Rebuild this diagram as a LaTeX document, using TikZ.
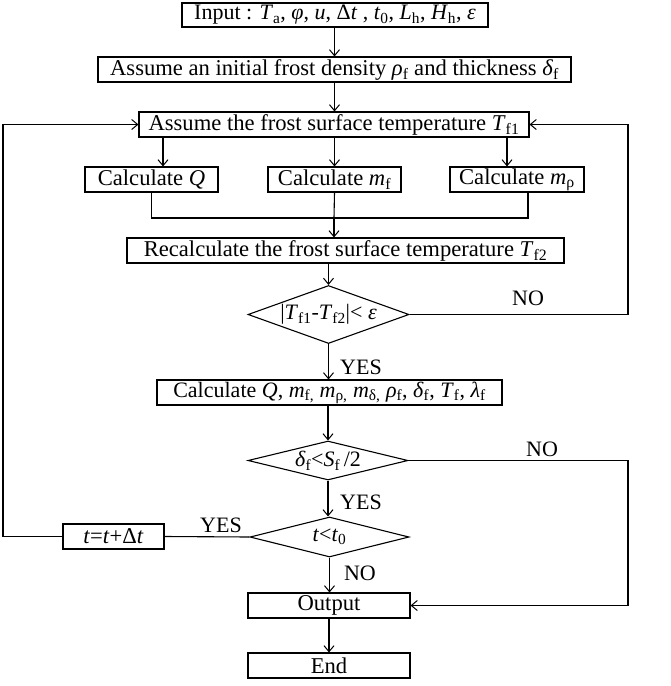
\documentclass[tikz,border=0pt]{standalone}
\usepackage{fontspec}
\setmainfont{Liberation Serif}
\usetikzlibrary{arrows.meta,shapes.geometric,shadows}
\newcommand{\iv}[1]{\textit{#1}}
\newcommand{\sbt}[1]{\textsubscript{#1}}
\tikzset{
  base/.style={font=\fontsize{22.6}{24}\selectfont},
  dbase/.style={font=\fontsize{22}{24}\selectfont},
  box/.style={base,draw=black,line width=1.1pt,fill=white,rectangle,inner sep=0pt,minimum height=25pt,
    drop shadow={shadow xshift=0.8pt,shadow yshift=-1.2pt,fill=blue!30,opacity=0.35}},
  dia/.style={dbase,draw=black,line width=1.1pt,diamond,inner sep=0pt},
  lbl/.style={dbase,inner sep=0pt},
  ln/.style={line width=1.1pt,draw=black},
  arr/.style={ln,-{Straight Barb[length=6pt,width=10pt,line width=1pt]}}
}
\begin{document}
\begin{tikzpicture}[x=1pt,y=-1pt]
\useasboundingbox (0,0) rectangle (671,686);
% boxes
\node[box,minimum width=306pt,minimum height=24pt,dbase] (in) at (335,15) {Input : \iv{T}\sbt{a}, \iv{φ}, \iv{u}, Δ\iv{t} , \iv{t}\sbt{0}, \iv{L}\sbt{h}, \iv{H}\sbt{h}, \iv{ε}};
\node[box,minimum width=473pt] (as1) at (334.5,69.5) {Assume an initial frost density \iv{ρ}\sbt{f} and thickness \iv{δ}\sbt{f}};
\node[box,minimum width=390pt] (as2) at (334,124.5) {Assume the frost surface temperature \iv{T}\sbt{f1}};
\node[box,minimum width=133pt] (cQ) at (151.5,179.5) {Calculate \iv{Q}};
\node[box,minimum width=133pt] (cmf) at (334.5,179.5) {Calculate \iv{m}\sbt{f}};
\node[box,minimum width=134pt] (cmr) at (517,179.5) {Calculate \iv{m}\sbt{ρ}};
\node[box,minimum width=437pt] (rc) at (345.5,250.5) {Recalculate the frost surface temperature \iv{T}\sbt{f2}};
\node[dia,minimum width=161pt,minimum height=58pt,label={[dbase]center:|\iv{T}\sbt{f1}-\iv{T}\sbt{f2}|< \iv{ε}}] (d1) at (328.5,314.5) {};
\node[box,minimum width=345pt,dbase] (cAll) at (329.5,392.5) {Calculate \iv{Q}, \iv{m}\sbt{f,} \iv{m}\sbt{ρ,} \iv{m}\sbt{δ,} \iv{ρ}\sbt{f}, \iv{δ}\sbt{f}, \iv{T}\sbt{f}, \iv{λ}\sbt{f}};
\node[dia,minimum width=160pt,minimum height=39pt,label={[dbase]center:\iv{δ}\sbt{f}<\iv{S}\sbt{f}\,/2}] (d2) at (328,460.5) {};
\node[dia,minimum width=159pt,minimum height=40pt,label={[dbase]center:\iv{t}<\iv{t}\sbt{0}}] (d3) at (329.5,537) {};
\node[box,minimum width=101pt] (tb) at (113.5,536.5) {\iv{t}=\iv{t}+Δ\iv{t}};
\node[box,minimum width=162pt] (out) at (329,605.5) {Output};
\node[box,minimum width=162pt] (end) at (329,665.5) {End};
% labels
\node[lbl] (no1) at (528,298) {NO};
\node[lbl] (yes1) at (361,367) {YES};
\node[lbl] (no2) at (542,449) {NO};
\node[lbl] (yes2) at (361,502) {YES};
\node[lbl] (no3) at (360,573) {NO};
\node[lbl] (yes3) at (221,525) {YES};
% helper coordinates
\coordinate (rt) at (628,0);
\coordinate (lt) at (3,0);
\coordinate (mg) at (334,218);
% connectors
\draw[arr] (in.south -| as1.north) -- (as1.north);
\draw[arr] (as1.south) -- (as1.south |- as2.north);
\draw[arr] ([xshift=11.5pt]cQ.north |- as2.south) -- ([xshift=11.5pt]cQ.north);
\draw[arr] (cmf.north |- as2.south) -- (cmf.north);
\draw[arr] ([xshift=-10pt]cmr.north |- as2.south) -- ([xshift=-10pt]cmr.north);
\draw[ln] (cQ.south) |- (mg);
\draw[ln] ([xshift=11pt]cmr.south) |- (mg);
\draw[ln] (cmf.south) -- (mg);
\draw[arr] (mg) -- (mg |- rc.north);
\draw[arr] (d1.north |- rc.south) -- (d1.north);
\draw[arr] (d1.south) -- (d1.south |- cAll.north);
\draw[arr] (d1.east) -- (d1.east -| rt) -- (rt |- as2.east) -- (as2.east);
\draw[arr] (d2.north |- cAll.south) -- (d2.north);
\draw[arr] (d2.south) -- (d2.south |- d3.north);
\draw[arr] (d2.east) -- (d2.east -| rt) -- (rt |- out.east) -- (out.east);
\draw[arr] (d3.south) -- (d3.south |- out.north);
\draw[ln] (d3.west) -- (tb.east);
\draw[arr] (tb.west) -- (tb.west -| lt) -- (lt |- as2.west) -- (as2.west);
\draw[arr] (out.south) -- (out.south |- end.north);
\end{tikzpicture}
\end{document}
